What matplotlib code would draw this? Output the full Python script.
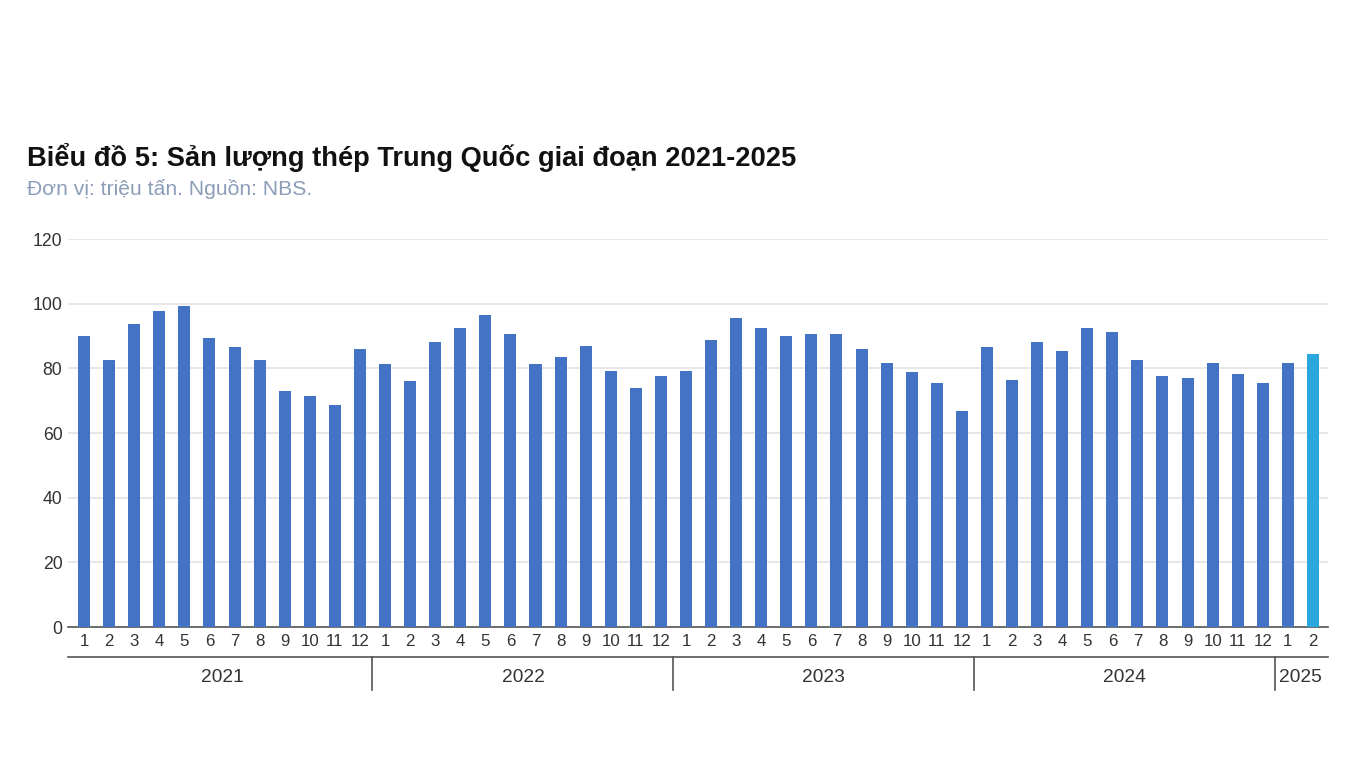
import matplotlib
matplotlib.use("Agg")
import matplotlib.pyplot as plt

years = ["2021", "2022", "2023", "2024", "2025"]
months_per_year = [12, 12, 12, 12, 2]
values_2021 = [90.1, 82.7, 93.8, 97.7, 99.3, 89.3, 86.6, 82.7, 73.1, 71.3, 68.7, 85.9]
values_2022 = [81.3, 76.1, 88.0, 92.6, 96.5, 90.5, 81.3, 83.4, 86.8, 79.3, 74.0, 77.5]
values_2023 = [79.3, 88.7, 95.7, 92.5, 90.0, 90.7, 90.5, 85.9, 81.6, 78.9, 75.5, 66.7]
values_2024 = [86.6, 76.4, 88.0, 85.5, 92.6, 91.3, 82.5, 77.5, 76.9, 81.7, 78.1, 75.6]
values_2025 = [81.7, 84.3]
y_ticks = [0, 20, 40, 60, 80, 100, 120]

title = "Biểu đồ 5: Sản lượng thép Trung Quốc giai đoạn 2021-2025"
subtitle = "Đơn vị: triệu tấn. Nguồn: NBS."

values = values_2021 + values_2022 + values_2023 + values_2024 + values_2025
month_labels = []
for n in months_per_year:
    month_labels += [str(m) for m in range(1, n + 1)]
x = list(range(len(values)))
colors = ["#4472C4"] * (len(values) - 1) + ["#2AA7DD"]

plt.rcParams['font.family'] = ['Liberation Sans', 'DejaVu Sans']

fig = plt.figure(figsize=(13.66, 7.68), dpi=100)
W, H = 1366, 768
ax_left, ax_right, ax_top, ax_bot = 68, 1328, 239, 627
ax = fig.add_axes([ax_left / W, 1 - ax_bot / H, (ax_right - ax_left) / W, (ax_bot - ax_top) / H])

ax.bar(x, values, width=0.48, color=colors, zorder=3)
ax.set_ylim(0, 120)
ax.set_xlim(-0.64, len(values) - 1 + 0.6)
ax.set_yticks(y_ticks)
ax.set_yticklabels([str(t) for t in y_ticks], fontsize=12.7, color="#333333")
ax.grid(axis="y", color="#e3e3e3", linewidth=1.2, zorder=0)
for s in ["top", "right", "left"]:
    ax.spines[s].set_visible(False)
ax.spines["bottom"].set_color("#555555")
ax.spines["bottom"].set_linewidth(1.2)
ax.tick_params(axis="y", length=0, pad=4)
ax.tick_params(axis="x", length=0, pad=5)
ax.set_xticks(x)
ax.set_xticklabels(month_labels, fontsize=12.2, color="#333333")

trans = ax.get_xaxis_transform()
axh = ax_bot - ax_top
y_line = -(657 - ax_bot) / axh
y_sep = -(690 - ax_bot) / axh
y_lab = -(677 - ax_bot) / axh
ax.plot([0, 1], [y_line, y_line], transform=ax.transAxes, color="#555555", lw=1.2, clip_on=False)
start = 0
for i, (yr, n) in enumerate(zip(years, months_per_year)):
    end = start + n
    center = (start + end - 1) / 2
    ax.text(center, y_lab, yr, transform=trans, ha="center", va="center", fontsize=13.8, color="#333333")
    if i < len(years) - 1:
        ax.plot([end - 0.5, end - 0.5], [y_line, y_sep], transform=trans, color="#555555", lw=1.2, clip_on=False)
    start = end

fig.text(27 / W, 1 - 157 / H, title, fontsize=19.6, fontweight="bold", color="#111111", va="center", ha="left")
fig.text(27 / W, 1 - 189 / H, subtitle, fontsize=15.2, color="#8C9DB8", va="center", ha="left")

fig.savefig("out.png", dpi=100)
